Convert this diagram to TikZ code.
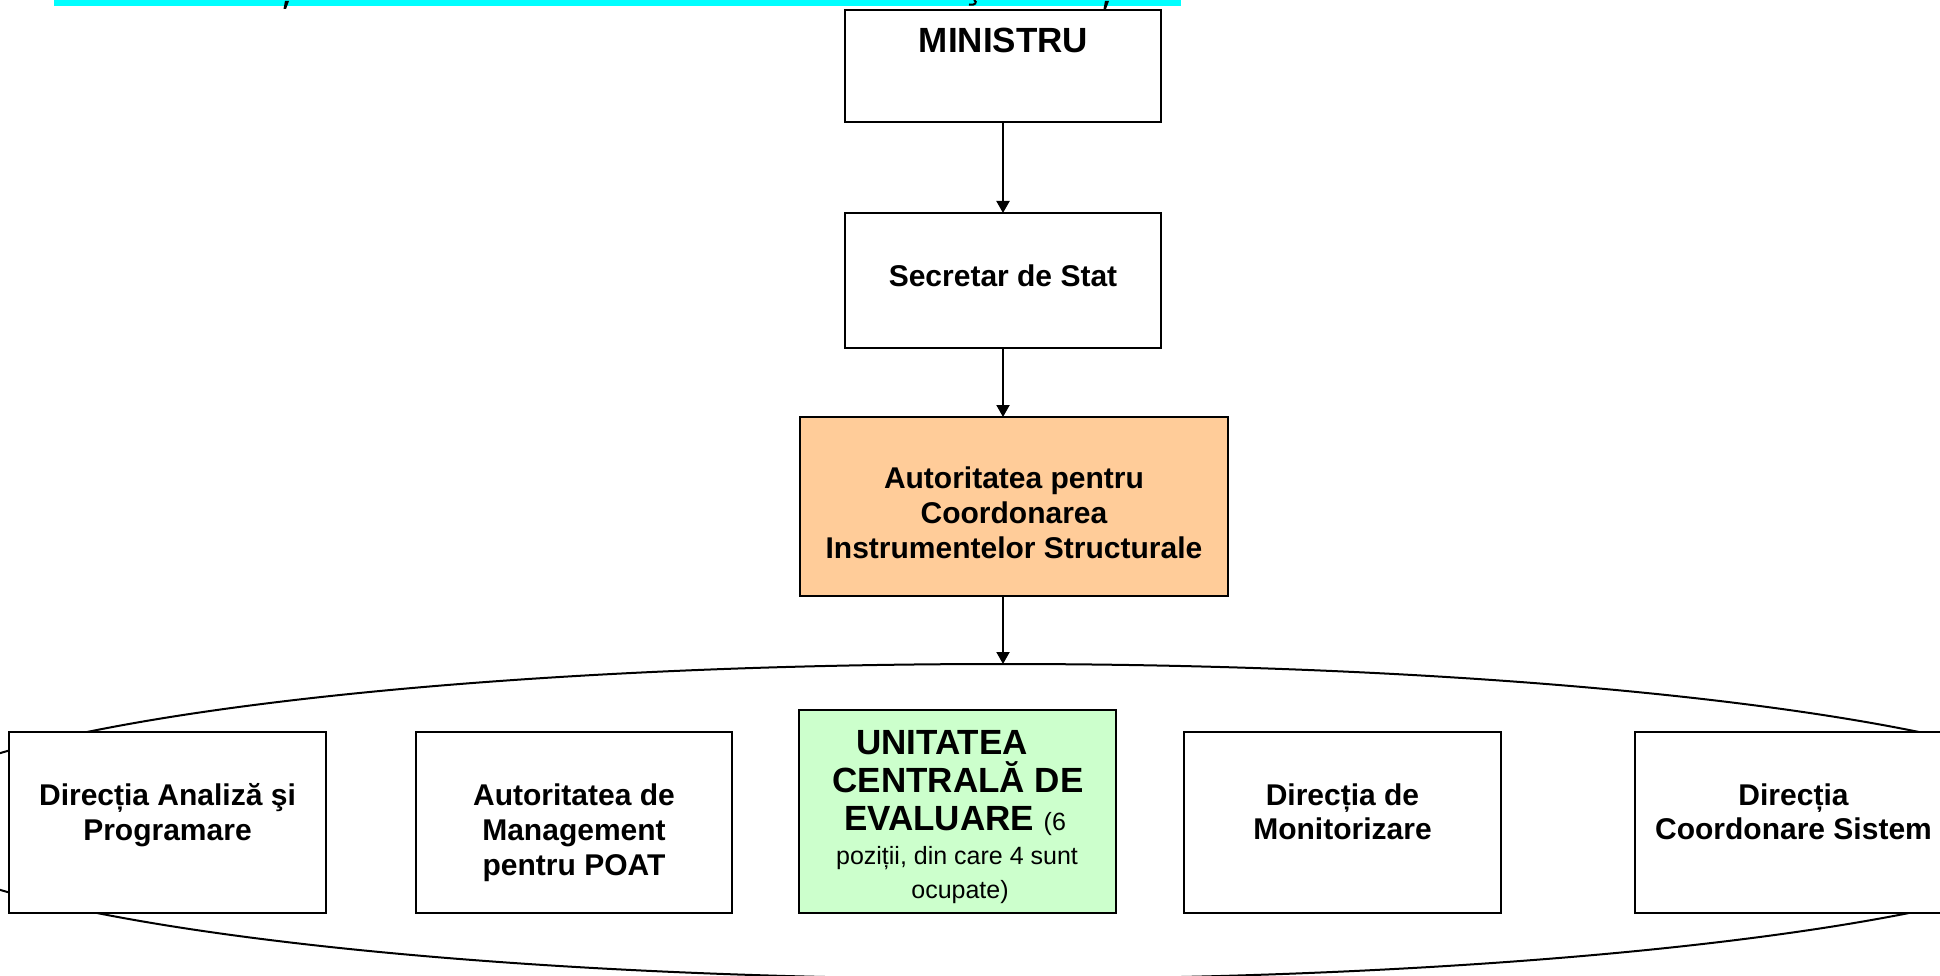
\documentclass[tikz,border=0pt]{standalone}
\usepackage{fontspec}
\setmainfont{Liberation Sans}
\usetikzlibrary{arrows.meta,shapes.geometric}
\definecolor{acisorange}{HTML}{FFCC99}
\definecolor{ucegreen}{HTML}{CCFFCC}
\definecolor{barcyan}{HTML}{00FFFF}
\tikzset{
  box/.style={draw=black, line width=2pt, fill=white, rectangle, inner sep=0pt, outer sep=0pt},
  lbl/.style={anchor=base, inner sep=0pt, font=\fontsize{30}{34.5}\selectfont\bfseries},
  biglbl/.style={anchor=base, inner sep=0pt, font=\fontsize{35}{37}\selectfont\bfseries},
  smalllbl/.style={anchor=base, inner sep=0pt, font=\fontsize{25}{29}\selectfont},
  conn/.style={line width=2pt, -{Triangle[length=12pt,width=13pt]}}
}
\begin{document}
\begin{tikzpicture}[x=1pt,y=-1pt]
\useasboundingbox (0,0) rectangle (1940,976);
\fill[white] (0,0) rectangle (1940,976);
% cyan strip with cut-off text fragments
\fill[barcyan] (54,0) rectangle (1181,6.5);
\fill[black] (285,1) -- (289,1) -- (286,9) -- (283.5,9) -- cycle;
\fill[black] (1105,1) -- (1109,1) -- (1106,9) -- (1103.5,9) -- cycle;
\draw[black, line width=2pt] (969,4.5) .. controls (975,6) and (978,2) .. (974,0);

% ellipse grouping the directions
\node[draw=black, line width=2pt, ellipse, inner sep=0pt, outer sep=0pt,
      minimum width=2226pt, minimum height=315pt] (grp) at (1003,821.5) {};

% top chain
\node[box, minimum width=316pt, minimum height=112pt] (min) at (1003,66) {};
\node[biglbl] (minT) at (1003.5,53) {MINISTRU};

\node[box, minimum width=316pt, minimum height=135pt] (sec) at (1003,280.5) {};
\node[lbl] (secT) at (1003,287) {Secretar de Stat};

\node[box, fill=acisorange, minimum width=428pt, minimum height=179pt] (acis) at (1014,506.5) {};
\node[lbl] (acisA) at (1014,488) {Autoritatea pentru};
\node[lbl] (acisB) at (1014,523) {Coordonarea};
\node[lbl] (acisC) at (1014,558) {Instrumentelor Structurale};

\draw[conn] (min.south) -- (sec.north);
\draw[conn] (sec.south) -- (sec.south |- acis.north);
\draw[conn] (sec.south |- acis.south) -- (grp.north);

% bottom row
\node[box, minimum width=317pt, minimum height=181pt] (dap) at (167.5,822.5) {};
\node[lbl] (dapA) at (167.5,805) {Direcția Analiză şi};
\node[lbl] (dapB) at (167.5,840) {Programare};

\node[box, minimum width=316pt, minimum height=181pt] (amp) at (574,822.5) {};
\node[lbl] (ampA) at (574,805) {Autoritatea de};
\node[lbl] (ampB) at (574,840) {Management};
\node[lbl] (ampC) at (574,875) {pentru POAT};

\node[box, fill=ucegreen, minimum width=317pt, minimum height=203pt] (uce) at (957.5,811.5) {};
\node[biglbl] (uceA) at (942,754) {UNITATEA};
\node[biglbl] (uceB) at (958,792) {CENTRALĂ DE};
\node[biglbl] (uceC) at (955,830) {EVALUARE {\fontsize{25}{29}\selectfont\mdseries(6}};
\node[smalllbl] (uceD) at (957,864) {poziții, din care 4 sunt};
\node[smalllbl] (uceE) at (960,898) {ocupate)};

\node[box, minimum width=317pt, minimum height=181pt] (dm) at (1342.5,822.5) {};
\node[lbl] (dmA) at (1342.5,805) {Direcția de};
\node[lbl] (dmB) at (1342.5,839) {Monitorizare};

\node[box, minimum width=317pt, minimum height=181pt] (dcs) at (1793.5,822.5) {};
\node[lbl] (dcsA) at (1793.5,805) {Direcția};
\node[lbl] (dcsB) at (1793.5,839) {Coordonare Sistem};
\end{tikzpicture}
\end{document}
